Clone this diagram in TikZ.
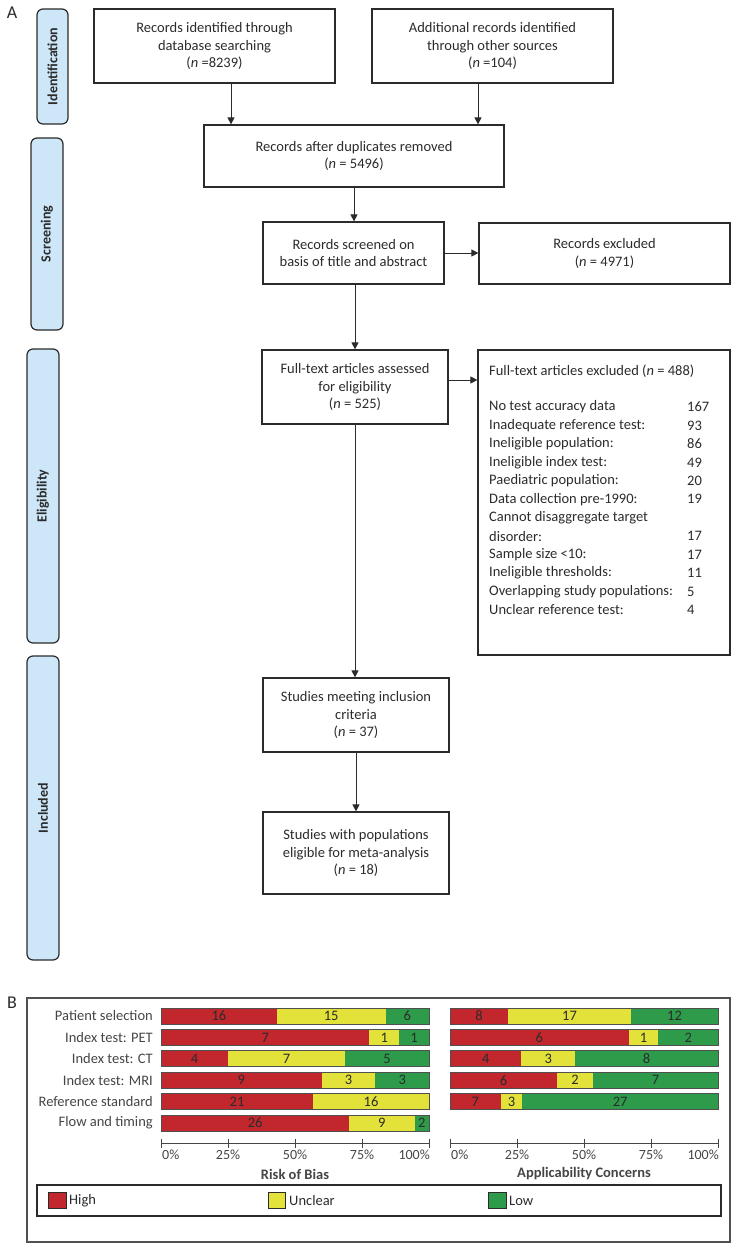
\documentclass[tikz,border=0pt]{standalone}
\usepackage{fontspec}
\setmainfont{Carlito}
\usetikzlibrary{arrows.meta}
\definecolor{txt}{HTML}{2B2B2B}
\definecolor{pill}{HTML}{CDE6F8}
\definecolor{cred}{HTML}{C1272D}
\definecolor{cyel}{HTML}{E2E23A}
\definecolor{cgrn}{HTML}{2E9B4B}
\definecolor{lab}{HTML}{454545}
\definecolor{bord}{HTML}{505050}
\tikzset{
  box/.style={draw=txt, line width=1.2pt, text=txt, align=center, inner sep=0pt,
    font=\fontsize{14.5}{17.5}\selectfont},
  pillbox/.style={draw=txt, fill=pill, line width=1.2pt, rounded corners=6pt, inner sep=0pt},
  pilltext/.style={rotate=90, font=\fontsize{14}{16}\selectfont\bfseries, text=txt},
  arr/.style={draw=txt, line width=0.9pt, -{Triangle[length=7pt,width=7pt]}},
  ltext/.style={anchor=west, inner sep=0pt, text=txt, font=\fontsize{14.5}{17.5}\selectfont},
  barnum/.style={inner sep=0pt, text=txt, font=\fontsize{14.5}{15}\selectfont},
  barline/.style={draw=bord, line width=1pt},
  rowlab/.style={anchor=east, inner sep=0pt, text=lab, font=\fontsize{14.5}{15}\selectfont},
  ticklab/.style={inner sep=0pt, text=lab, font=\fontsize{14}{15}\selectfont},
  axtitle/.style={inner sep=0pt, text=lab, font=\fontsize{14.5}{15}\selectfont\bfseries},
  frame/.style={draw=bord, line width=1.2pt},
  legsq/.style={draw=txt, line width=1pt},
  panel/.style={inner sep=0pt, text=txt, font=\fontsize{18}{20}\selectfont}
}
\newcommand{\mybar}[6]{%
  \pgfmathsetmacro{\mytot}{#3+#4+#5}%
  \pgfmathsetmacro{\mxa}{#1+268*#3/\mytot}%
  \pgfmathsetmacro{\mxb}{#1+268*(#3+#4)/\mytot}%
  \fill[cred] (#1,#2) rectangle (\mxa,#2+16);
  \fill[cyel] (\mxa,#2) rectangle (\mxb,#2+16);
  \fill[cgrn] (\mxb,#2) rectangle (#1+268,#2+16);
  \draw[barline] (#1,#2) rectangle (#1+268,#2+16);
  \node[barnum] (#6h) at ({(#1+\mxa)/2},#2+8) {#3};
  \node[barnum] (#6u) at ({(\mxa+\mxb)/2},#2+8) {#4};
  \ifnum#5>0 \node[barnum] (#6l) at ({(\mxb+#1+268)/2},#2+8) {#5};\fi
}
\begin{document}
\begin{tikzpicture}[x=1pt,y=-1pt]
\useasboundingbox (0,0) rectangle (733,1244);
% panel letters
\node[panel] (A) at (12,13) {A};
\node[panel] (B) at (12,1003) {B};
% phase pills
\node[pillbox, minimum width=31pt, minimum height=115pt] (p1) at (52.5,66.5) {};
\node[pilltext] (p1t) at (p1) {Identification};
\node[pillbox, minimum width=32pt, minimum height=192pt] (p2) at (47,234) {};
\node[pilltext] (p2t) at (p2) {Screening};
\node[pillbox, minimum width=32pt, minimum height=294pt] (p3) at (43,496) {};
\node[pilltext] (p3t) at (p3) {Eligibility};
\node[pillbox, minimum width=32pt, minimum height=304pt] (p4) at (43,808) {};
\node[pilltext] (p4t) at (p4) {Included};
% boxes
\node[box, minimum width=241pt, minimum height=74pt] (b1) at (214.5,46)
  {Records identified through\\database searching\\(\textit{n} =8239)};
\node[box, minimum width=241pt, minimum height=74pt] (b2) at (492.5,46)
  {Additional records identified\\through other sources\\(\textit{n} =104)};
\node[box, minimum width=300pt, minimum height=62pt] (b3) at (354,156)
  {Records after duplicates removed\\(\textit{n} = 5496)};
\node[box, minimum width=181pt, minimum height=62pt] (b4) at (353.5,253)
  {Records screened on\\basis of title and abstract};
\node[box, minimum width=251pt, minimum height=61pt] (b5) at (604.5,253.5)
  {Records excluded\\(\textit{n} = 4971)};
\node[box, minimum width=186pt, minimum height=74pt] (b6) at (355,387)
  {Full-text articles assessed\\for eligibility\\(\textit{n} = 525)};
\node[box, minimum width=252pt, minimum height=305pt] (b7) at (604,502.5) {};
\node[box, minimum width=186pt, minimum height=74pt] (b8) at (356,715)
  {Studies meeting inclusion\\criteria\\(\textit{n} = 37)};
\node[box, minimum width=186pt, minimum height=82pt] (b9) at (356,853)
  {Studies with populations\\eligible for meta-analysis\\(\textit{n} = 18)};
% excluded list
\node[ltext] (e0) at (489,371) {Full-text articles excluded (\textit{n} = 488)};
\foreach \t/\n [count=\i] in {No test accuracy data/167, Inadequate reference test:/93,
  Ineligible population:/86, Ineligible index test:/49, Paediatric population:/20,
  Data collection pre-1990:/19, Cannot disaggregate target/, disorder:/17,
  Sample size <10:/17, Ineligible thresholds:/11, Overlapping study populations:/5,
  Unclear reference test:/4} {
  \node[ltext] (e\i) at (489,{407+18.45*(\i-1)}) {\t};
  \node[ltext] (n\i) at (687,{407+18.45*(\i-1)}) {\n};
}
% connectors
\coordinate (c1) at (231,0);
\coordinate (c2) at (478,0);
\coordinate (c3) at (0,380);
\draw[arr] (b1.south -| c1) -- (b3.north -| c1);
\draw[arr] (b2.south -| c2) -- (b3.north -| c2);
\draw[arr] (b3.south) -- (b4.north -| b3.south);
\draw[arr] (b4.east) -- (b5.west |- b4.east);
\draw[arr] (b4.south -| b6.north) -- (b6.north);
\draw[arr] (b6.east |- c3) -- (b7.west |- c3);
\draw[arr] (b6.south) -- (b8.north -| b6.south);
\draw[arr] (b8.south) -- (b9.north -| b8.south);
% panel B
\draw[frame] (27,998) rectangle (730,1242);
% row labels
\foreach \t [count=\i] in {Patient selection, Index test: PET, Index test: CT,
  Index test: MRI, Reference standard, Flow and timing} {
  \node[rowlab] (r\i) at (153,{1016+21.4*(\i-1)}) {\t};
}
% risk of bias bars
\mybar{161}{1008}{16}{15}{6}{ra}
\mybar{161}{1029.4}{7}{1}{1}{rb}
\mybar{161}{1050.8}{4}{7}{5}{rc}
\mybar{161}{1072.2}{9}{3}{3}{rd}
\mybar{161}{1093.6}{21}{16}{0}{re}
\mybar{161}{1115}{26}{9}{2}{rf}
% applicability bars
\mybar{450}{1008}{8}{17}{12}{aa}
\mybar{450}{1029.4}{6}{1}{2}{ab}
\mybar{450}{1050.8}{4}{3}{8}{ac}
\mybar{450}{1072.2}{6}{2}{7}{ad}
\mybar{450}{1093.6}{7}{3}{27}{ae}
% axes
\foreach \xo/\s in {161/l, 450/r} {
  \draw[draw=lab, line width=1pt] (\xo,1143) -- (\xo+268,1143);
  \foreach \k in {0,1,2,3,4} {
    \draw[draw=lab, line width=1pt] (\xo+67*\k,1138.5) -- (\xo+67*\k,1148);
  }
  \node[ticklab, anchor=west] (t\s0) at (\xo+1,1155) {0\%};
  \node[ticklab] (t\s1) at (\xo+67,1155) {25\%};
  \node[ticklab] (t\s2) at (\xo+134,1155) {50\%};
  \node[ticklab] (t\s3) at (\xo+201,1155) {75\%};
  \node[ticklab, anchor=east] (t\s4) at (\xo+269,1155) {100\%};
}
\node[axtitle] (ax1) at (295,1174) {Risk of Bias};
\node[axtitle] (ax2) at (584,1174) {Applicability Concerns};
% legend
\draw[frame, draw=txt] (37,1185) rectangle (721,1216);
\draw[legsq, fill=cred] (48,1192) rectangle (66,1208);
\node[ltext] (lh) at (69,1200.5) {High};
\draw[legsq, fill=cyel] (268,1192) rectangle (285,1208);
\node[ltext] (lu) at (289,1200.5) {Unclear};
\draw[legsq, fill=cgrn] (488,1192) rectangle (506,1208);
\node[ltext] (ll) at (509,1200.5) {Low};
\end{tikzpicture}
\end{document}
